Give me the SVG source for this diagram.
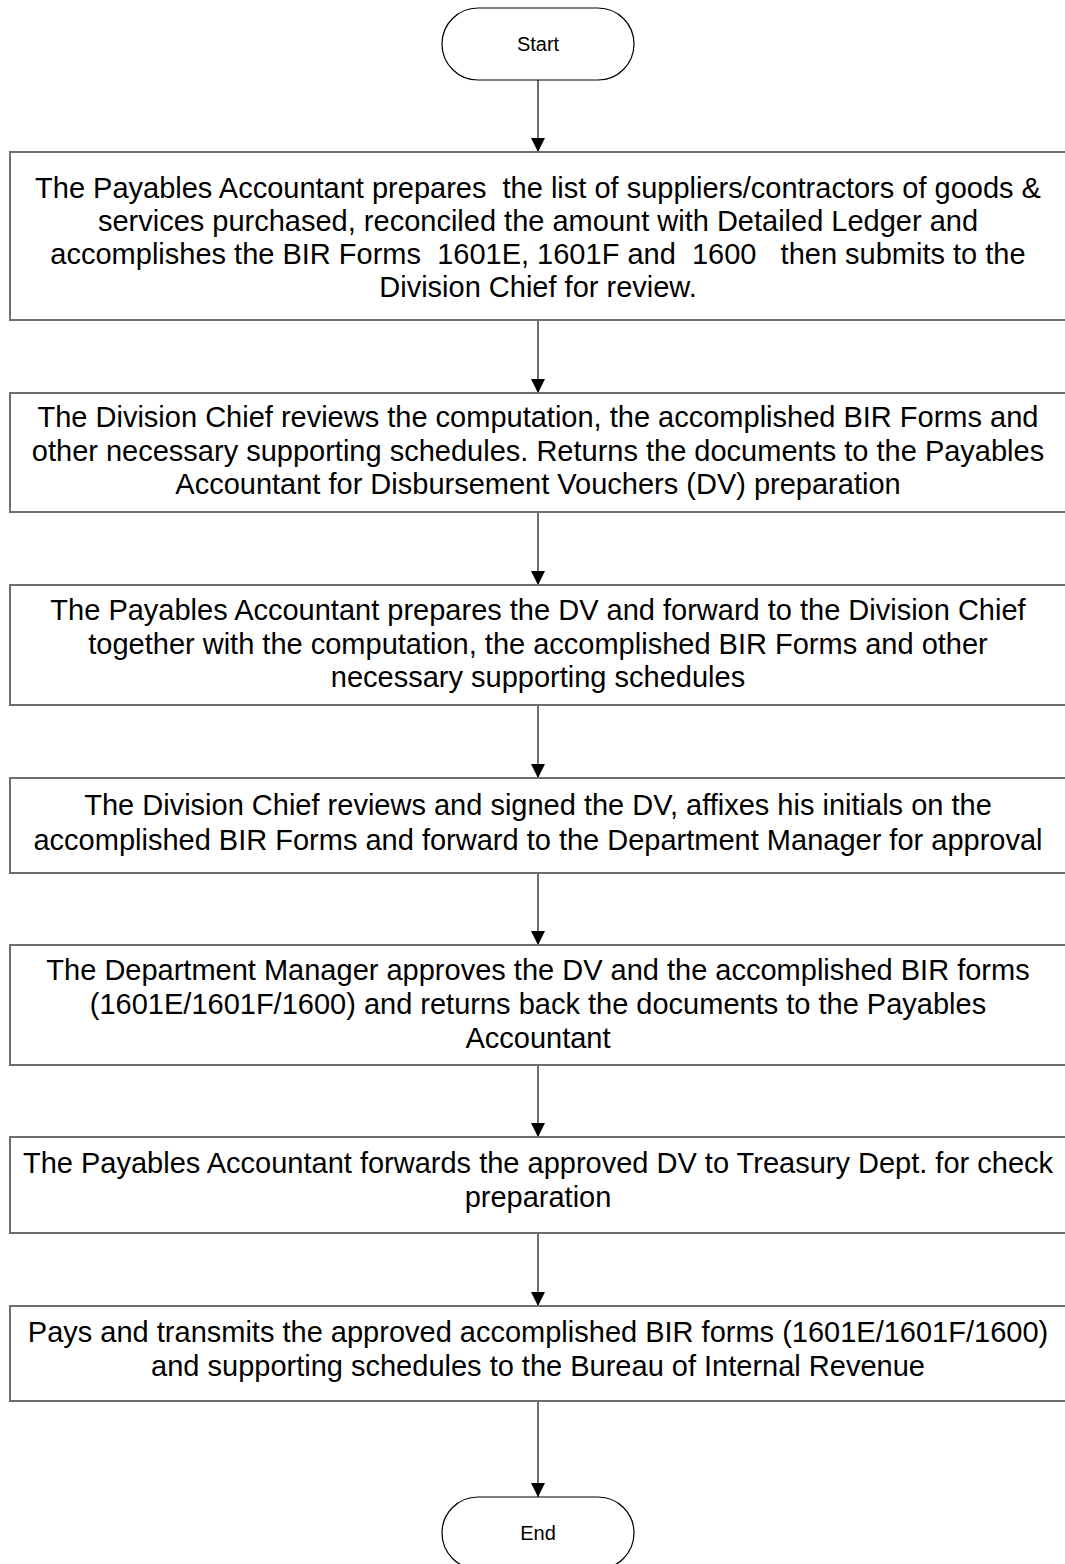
<svg xmlns="http://www.w3.org/2000/svg" width="1065" height="1564" viewBox="0 0 1065 1564">
  <style>
    .term { fill: #fff; stroke: #000; stroke-width: 1.2; }
    .box { fill: #fff; stroke: #6e6e6e; stroke-width: 2; }
    .t { font-family: "Liberation Sans", Arial, sans-serif; font-size: 29px; fill: #000; text-anchor: middle; white-space: pre; }
    .ts { font-family: "Liberation Sans", Arial, sans-serif; font-size: 20px; fill: #000; text-anchor: middle; }
    .edge { stroke: #6e6e6e; stroke-width: 2; fill: none; marker-end: url(#arrow); }
  </style>
  <defs>
    <marker id="arrow" markerUnits="userSpaceOnUse" markerWidth="14" markerHeight="14" refX="14" refY="7" orient="auto" viewBox="0 0 14 14">
      <path d="M0,0 L14,7 L0,14 Z" fill="#000"/>
    </marker>
  </defs>
  <rect width="1065" height="1564" fill="#fff"/>

  <g id="connectors">
    <line class="edge" x1="538" y1="80" x2="538" y2="152"/>
    <line class="edge" x1="538" y1="320" x2="538" y2="393"/>
    <line class="edge" x1="538" y1="512" x2="538" y2="585"/>
    <line class="edge" x1="538" y1="705" x2="538" y2="778"/>
    <line class="edge" x1="538" y1="873" x2="538" y2="945"/>
    <line class="edge" x1="538" y1="1065" x2="538" y2="1137"/>
    <line class="edge" x1="538" y1="1233" x2="538" y2="1306"/>
    <line class="edge" x1="538" y1="1401" x2="538" y2="1497"/>
  </g>

  <g id="start">
    <rect class="term" x="442" y="8" width="192" height="72" rx="36" ry="36"/>
    <text class="ts" x="538" y="51">Start</text>
  </g>

  <g id="step1">
    <rect class="box" x="10" y="152" width="1070" height="168"/>
    <text class="t" x="538" y="198" xml:space="preserve">The Payables Accountant prepares  the list of suppliers/contractors of goods &amp;</text>
    <text class="t" x="538" y="231">services purchased, reconciled the amount with Detailed Ledger and</text>
    <text class="t" x="538" y="264" xml:space="preserve">accomplishes the BIR Forms  1601E, 1601F and  1600   then submits to the</text>
    <text class="t" x="538" y="297">Division Chief for review.</text>
  </g>

  <g id="step2">
    <rect class="box" x="10" y="393" width="1070" height="119"/>
    <text class="t" x="538" y="427">The Division Chief reviews the computation, the accomplished BIR Forms and</text>
    <text class="t" x="538" y="461">other necessary supporting schedules. Returns the documents to the Payables</text>
    <text class="t" x="538" y="494">Accountant for Disbursement Vouchers (DV) preparation</text>
  </g>

  <g id="step3">
    <rect class="box" x="10" y="585" width="1070" height="120"/>
    <text class="t" x="538" y="620">The Payables Accountant prepares the DV and forward to the Division Chief</text>
    <text class="t" x="538" y="654">together with the computation, the accomplished BIR Forms and other</text>
    <text class="t" x="538" y="687">necessary supporting schedules</text>
  </g>

  <g id="step4">
    <rect class="box" x="10" y="778" width="1070" height="95"/>
    <text class="t" x="538" y="815">The Division Chief reviews and signed the DV, affixes his initials on the</text>
    <text class="t" x="538" y="850">accomplished BIR Forms and forward to the Department Manager for approval</text>
  </g>

  <g id="step5">
    <rect class="box" x="10" y="945" width="1070" height="120"/>
    <text class="t" x="538" y="980">The Department Manager approves the DV and the accomplished BIR forms</text>
    <text class="t" x="538" y="1014">(1601E/1601F/1600) and returns back the documents to the Payables</text>
    <text class="t" x="538" y="1048">Accountant</text>
  </g>

  <g id="step6">
    <rect class="box" x="10" y="1137" width="1070" height="96"/>
    <text class="t" x="538" y="1173">The Payables Accountant forwards the approved DV to Treasury Dept. for check</text>
    <text class="t" x="538" y="1207">preparation</text>
  </g>

  <g id="step7">
    <rect class="box" x="10" y="1306" width="1070" height="95"/>
    <text class="t" x="538" y="1342">Pays and transmits the approved accomplished BIR forms (1601E/1601F/1600)</text>
    <text class="t" x="538" y="1376">and supporting schedules to the Bureau of Internal Revenue</text>
  </g>

  <g id="end">
    <rect class="term" x="442" y="1497" width="192" height="72" rx="36" ry="36"/>
    <text class="ts" x="538" y="1540">End</text>
  </g>
</svg>
